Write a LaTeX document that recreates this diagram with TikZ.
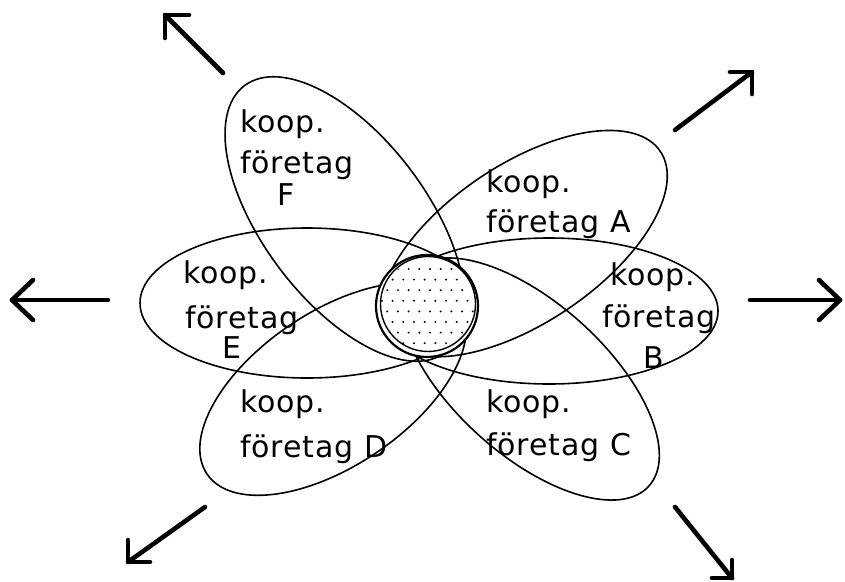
\documentclass[tikz,border=0pt]{standalone}
\usepackage{fontspec}
\newfontfamily\lblfont[LetterSpace=3]{DejaVu Sans}
\begin{document}
\begin{tikzpicture}[x=1pt,y=-1pt,
  outline/.style={line width=1.6pt, black},
  lbl/.style={font=\lblfont\fontsize{30}{30}\selectfont, anchor=base west, inner sep=0pt},
  bigarrow/.style={line width=4.6pt, line cap=round, line join=round},
]
\useasboundingbox (0,0) rectangle (845,581);

% ---- the six cooperative firms ----
\draw[outline, rotate around={-53:(345,219)}] (345,219) ellipse [x radius=167, y radius=82];   % F
\draw[outline, rotate around={-42:(530,379)}] (530,379) ellipse [x radius=160, y radius=76];   % C
\draw[outline, rotate around={34:(523.5,243.6)}] (523.5,243.6) ellipse [x radius=165, y radius=79]; % A
\draw[outline, rotate around={34:(333,389)}] (333,389) ellipse [x radius=152, y radius=77];     % D
\draw[outline] (307,303) ellipse [x radius=167, y radius=75];  % E
\draw[outline] (549,311) ellipse [x radius=169, y radius=73];  % B

% ---- shared core, covering the inner ends ----
\fill[white] (427,306) circle [radius=51];
\begin{scope}
  \clip (427,306) circle [radius=47];
  \foreach \r in {-2,...,9} {
    \foreach \c in {-6,...,6} {
      \pgfmathsetmacro{\dx}{430+10.7*\c-5.35*mod(\r+20,2)}
      \pgfmathsetmacro{\dy}{269+10.6*\r}
      \fill (\dx,\dy) circle [radius=1.1];
    }
  }
\end{scope}
\draw[line width=2.2pt] (427,306) circle [radius=51];
\draw[line width=1.4pt] (428,304) circle [radius=47.5];

% ---- labels ----
\node[lbl] (fk) at (240,132) {koop.};
\node[lbl] (ff) at (240,173) {företag};
\node[lbl] (fl) at (277,205) {F};

\node[lbl] (ak) at (486,192) {koop.};
\node[lbl] (af) at (486,232) {företag A};

\node[lbl] (bk) at (610,285) {koop.};
\node[lbl] (bf) at (602,327) {företag};
\node[lbl] (bl) at (643,368) {B};

\node[lbl] (ek) at (183,283) {koop.};
\node[lbl] (ef) at (185,328) {företag};
\node[lbl] (el) at (222,358) {E};

\node[lbl] (dk) at (240,412) {koop.};
\node[lbl] (df) at (240,457) {företag D};

\node[lbl] (ck) at (486,412) {koop.};
\node[lbl] (cf) at (486,455) {företag C};

% ---- outward arrows ----
\coordinate (lT) at (12,300);  \coordinate (lS) at (108,300);
\coordinate (lB1) at (33,280); \coordinate (lB2) at (33,320);
\coordinate (rT) at (840,300); \coordinate (rS) at (750,300);
\coordinate (rB1) at (819,280); \coordinate (rB2) at (819,320);
\coordinate (ulT) at (165,15); \coordinate (ulS) at (223,73);
\coordinate (ulB1) at (189,15); \coordinate (ulB2) at (165,38);
\coordinate (urT) at (752,72); \coordinate (urS) at (675,130);
\coordinate (urB1) at (730,72); \coordinate (urB2) at (752,94);
\coordinate (dlT) at (128,562); \coordinate (dlS) at (205,507);
\coordinate (dlB1) at (128,540); \coordinate (dlB2) at (150,562);
\coordinate (drT) at (732,578); \coordinate (drS) at (675,507);
\coordinate (drB1) at (732,560); \coordinate (drB2) at (712,578);

\foreach \a in {l,r,ul,ur,dl,dr} {
  \draw[bigarrow] (\a S) -- (\a T);
  \draw[bigarrow] (\a B1) -- (\a T) -- (\a B2);
}
\end{tikzpicture}
\end{document}
